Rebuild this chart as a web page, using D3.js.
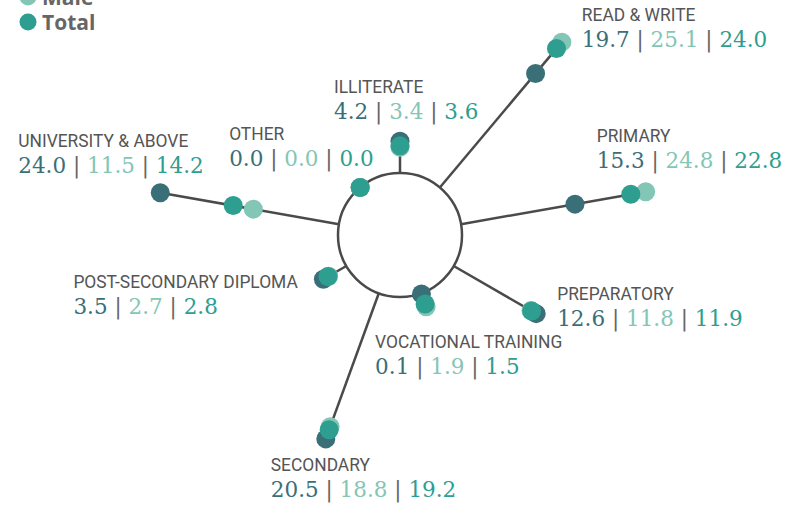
<!DOCTYPE html>
<html>
<head>
<meta charset="utf-8">
<script src="https://cdn.jsdelivr.net/npm/d3@7"></script>
<style>
  body { margin: 0; background: #fff; }
  .cat { font-family: Roboto, sans-serif; font-size: 18.5px; fill: #555; }
  .val { font-family: "DejaVu Serif", serif; font-size: 21.5px; }
  .legend { font-family: "Open Sans", sans-serif; font-weight: bold; font-size: 21px; fill: #666; }
</style>
</head>
<body>
<svg id="chart" width="798" height="507"></svg>
<script>
// categories, clockwise from the top
const categories = ["ILLITERATE", "READ & WRITE", "PRIMARY", "PREPARATORY", "VOCATIONAL TRAINING",
  "SECONDARY", "POST-SECONDARY DIPLOMA", "UNIVERSITY & ABOVE", "OTHER"];
const female = [4.2, 19.7, 15.3, 12.6, 0.1, 20.5, 3.5, 24.0, 0.0];
const male = [3.4, 25.1, 24.8, 11.8, 1.9, 18.8, 2.7, 11.5, 0.0];
const total = [3.6, 24.0, 22.8, 11.9, 1.5, 19.2, 2.8, 14.2, 0.0];
const seriesNames = ["Female", "Male", "Total"];

const cx = 400, cy = 235, hub = 62;
const colors = { Female: "#3b6f78", Male: "#84c6b6", Total: "#2d9e90" };

// label offsets from the outer dot (x, y of the category name baseline)
const labelOffset = {
  "ILLITERATE": [-66, -48],
  "READ & WRITE": [20, -21],
  "PRIMARY": [-49, -50],
  "PREPARATORY": [21, -14],
  "VOCATIONAL TRAINING": [-51, 41],
  "SECONDARY": [-55, 32],
  "POST-SECONDARY DIPLOMA": [-250, 9],
  "UNIVERSITY & ABOVE": [-142, -46],
  "OTHER": [-131, -48]
};

const svg = d3.select("#chart");

const angle = d3.scaleLinear().domain([0, categories.length]).range([-90, 270]);
const radius = d3.scaleLinear().domain([0, 25]).range([hub, hub + 189]);

function pos(i, v) {
  const a = angle(i) * Math.PI / 180;
  const r = radius(v);
  return [cx + r * Math.cos(a), cy + r * Math.sin(a)];
}

const rows = categories.map((c, i) => ({
  cat: c, i: i,
  vals: { Female: female[i], Male: male[i], Total: total[i] },
  max: Math.max(female[i], male[i], total[i])
}));

// spokes, from the hub out to the furthest dot
svg.append("g").selectAll("line")
  .data(rows)
  .join("line")
  .attr("x1", d => pos(d.i, 0)[0])
  .attr("y1", d => pos(d.i, 0)[1])
  .attr("x2", d => pos(d.i, d.max)[0])
  .attr("y2", d => pos(d.i, d.max)[1])
  .attr("stroke", "#4a4a4a")
  .attr("stroke-width", 2.5);

// hub circle
svg.append("circle")
  .attr("cx", cx).attr("cy", cy).attr("r", hub)
  .attr("fill", "#fff")
  .attr("stroke", "#4a4a4a")
  .attr("stroke-width", 2.5);

// dots
seriesNames.forEach(s => {
  svg.append("g").selectAll("circle")
    .data(rows)
    .join("circle")
    .attr("cx", d => pos(d.i, d.vals[s])[0])
    .attr("cy", d => pos(d.i, d.vals[s])[1])
    .attr("r", 9.5)
    .attr("fill", colors[s]);
});

// labels
const labels = svg.append("g").selectAll("g")
  .data(rows)
  .join("g")
  .attr("transform", d => {
    const p = pos(d.i, d.max);
    const o = labelOffset[d.cat];
    return `translate(${p[0] + o[0]},${p[1] + o[1]})`;
  });

// the original uses a condensed face, so squeeze Roboto a little
labels.append("text")
  .attr("class", "cat")
  .attr("transform", "scale(0.94,1)")
  .text(d => d.cat);

const vt = labels.append("text")
  .attr("class", "val")
  .attr("y", 26);
vt.append("tspan").attr("fill", colors.Female).text(d => d.vals.Female.toFixed(1));
vt.append("tspan").attr("fill", "#666").text(" | ");
vt.append("tspan").attr("fill", colors.Male).text(d => d.vals.Male.toFixed(1));
vt.append("tspan").attr("fill", "#666").text(" | ");
vt.append("tspan").attr("fill", colors.Total).text(d => d.vals.Total.toFixed(1));

// legend (its top runs off the page, as in the original)
const legend = svg.append("g").selectAll("g")
  .data(seriesNames)
  .join("g")
  .attr("transform", (d, i) => `translate(28,${-28 + i * 25})`);
legend.append("circle").attr("r", 8.5).attr("fill", d => colors[d]);
legend.append("text").attr("class", "legend").attr("x", 14).attr("y", 7.5).text(d => d);
</script>
</body>
</html>
